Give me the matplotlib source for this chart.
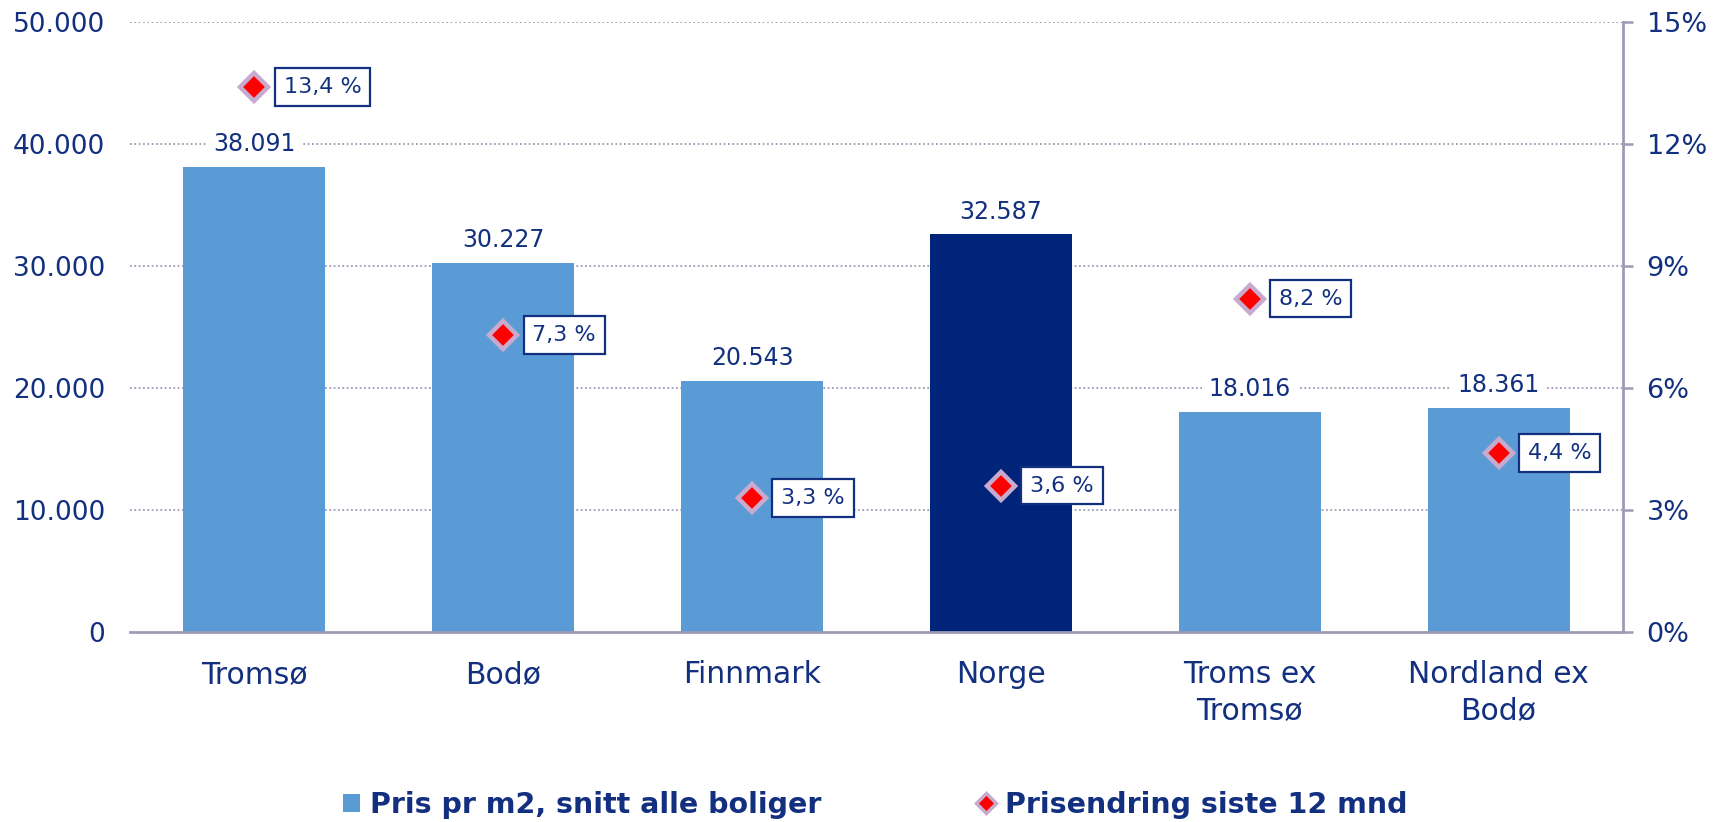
import matplotlib
matplotlib.use("Agg")
import matplotlib.pyplot as plt
from matplotlib.patches import Patch
from matplotlib.lines import Line2D

# data
categories = ["Tromsø", "Bodø", "Finnmark", "Norge", "Troms ex\nTromsø", "Nordland ex\nBodø"]
price_m2 = [38091, 30227, 20543, 32587, 18016, 18361]
change_pct = [13.4, 7.3, 3.3, 3.6, 8.2, 4.4]
left_ticks = [0, 10000, 20000, 30000, 40000, 50000]
right_ticks = [0, 3, 6, 9, 12, 15]

navy = "#12307F"
light_blue = "#5B9BD5"
dark_blue = "#00247A"
grey = "#9C9CB4"

plt.rcParams['font.family'] = ['DejaVu Sans']

fig = plt.figure(figsize=(17.26, 8.22), dpi=100)
ax = fig.add_axes([130/1726, 1 - 632/822, (1623-130)/1726, (632-22)/822])

colors = [dark_blue if c == "Norge" else light_blue for c in categories]
x = list(range(len(categories)))
ax.bar(x, price_m2, width=0.57, color=colors, zorder=2)

ax.set_xlim(-0.5, len(categories) - 0.5)
ax.set_ylim(0, 50000)
ax.set_yticks(left_ticks)
ax.set_yticklabels([f"{v:,}".replace(",", ".") for v in left_ticks])
ax.set_xticks(x)
ax.set_xticklabels(categories, linespacing=1.3)
ax.tick_params(axis='y', length=0, pad=18, labelsize=19, labelcolor=navy)
ax.tick_params(axis='x', length=0, pad=20, labelsize=21.5, labelcolor=navy)

for v in left_ticks[1:]:
    ax.axhline(v, color=grey, lw=1.3, ls=(0, (1, 1.4)), zorder=1)

for s in ["top", "left", "right"]:
    ax.spines[s].set_visible(False)
ax.spines["bottom"].set_color(grey)
ax.spines["bottom"].set_linewidth(2)
ax.spines["bottom"].set_zorder(3)

for xi, v in zip(x, price_m2):
    ax.annotate(f"{v:,}".replace(",", "."), (xi, v), xytext=(0, 16.5),
                textcoords="offset points", ha="center", va="center",
                fontsize=17, color=navy, zorder=4,
                bbox=dict(boxstyle="square,pad=0.3", fc="white", ec="none"))

# right axis
ax2 = ax.twinx()
ax2.set_ylim(0, 15)
ax2.set_yticks(right_ticks)
ax2.set_yticklabels([f"{v}%" for v in right_ticks])
ax2.tick_params(axis='y', length=7, width=1.8, color=grey, pad=10,
                labelsize=19.5, labelcolor=navy)
for s in ["top", "left", "bottom"]:
    ax2.spines[s].set_visible(False)
ax2.spines["right"].set_color(grey)
ax2.spines["right"].set_linewidth(2)

ax2.plot(x, change_pct, ls="none", marker="D", ms=14, mfc="red",
         mec="#C8AACF", mew=3.2, zorder=5)
for xi, v in zip(x, change_pct):
    ax2.annotate(f"{v:.1f} %".replace(".", ","), (xi, v), xytext=(21, 0),
                 textcoords="offset points", ha="left", va="center",
                 fontsize=16, color=navy, zorder=6,
                 bbox=dict(boxstyle="square,pad=0.4", fc="white", ec=navy, lw=1.6))

handles = [
    Patch(facecolor=light_blue, edgecolor="none"),
    Line2D([], [], ls="none", marker="D", ms=10, mfc="red", mec="#C8AACF", mew=2.5),
]
fig.legend(handles, ["Pris pr m2, snitt alle boliger", "Prisendring siste 12 mnd"],
           loc="center", bbox_to_anchor=(0.507, 0.021), ncol=2, frameon=False,
           handlelength=0.6, handleheight=0.6, handletextpad=0.35,
           columnspacing=5.5, prop=dict(size=20.5, weight="bold"),
           labelcolor=navy)

fig.savefig("out.png", dpi=100)
